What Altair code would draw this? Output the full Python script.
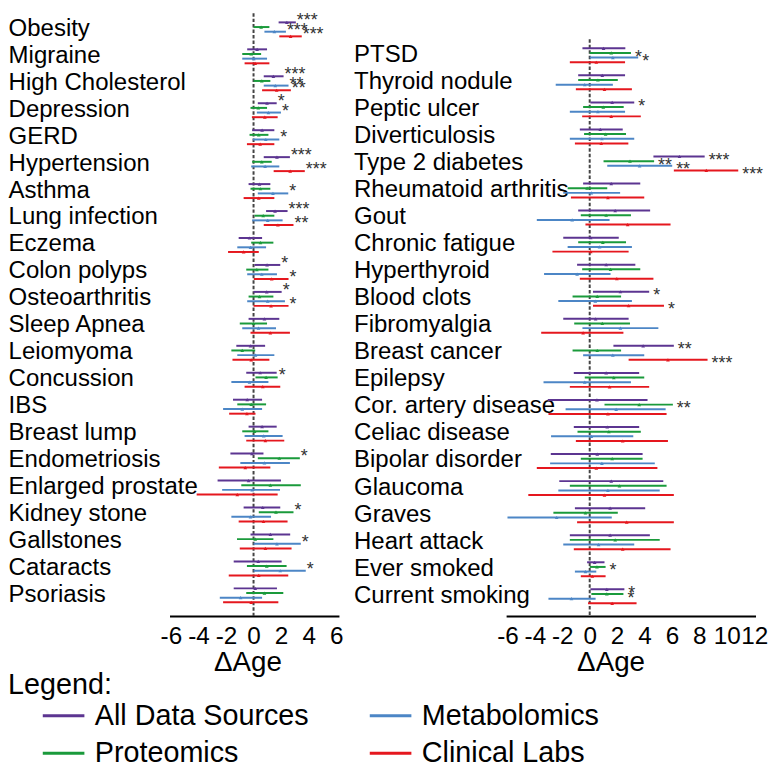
import json
import altair as alt
import pandas as pd

FONT = "Liberation Sans, Arial, sans-serif"
SERIES = ["All Data Sources", "Proteomics", "Metabolomics", "Clinical Labs"]
COLORS = {"All Data Sources": "#5C3591", "Proteomics": "#1A9A3B",
          "Metabolomics": "#4C86C6", "Clinical Labs": "#E5171E"}

# ---------------- left panel ----------------
left_conditions = ["Obesity", "Migraine", "High Cholesterol", "Depression", "GERD",
                   "Hypertension", "Asthma", "Lung infection", "Eczema", "Colon polyps",
                   "Osteoarthritis", "Sleep Apnea", "Leiomyoma", "Concussion", "IBS",
                   "Breast lump", "Endometriosis", "Enlarged prostate", "Kidney stone",
                   "Gallstones", "Cataracts", "Psoriasis"]

left_all_mid = [2.42, 0.26, 1.44, 0.98, 0.62, 1.70, 0.43, 1.56, -0.29, 0.98, 0.96,
                0.79, -0.22, 0.48, -0.46, 0.62, -0.12, -0.36, 0.67, 1.22, 0.34, 0.12]
left_all_lo = [1.82, -0.46, 0.74, 0.31, -0.10, 0.74, -0.36, 0.91, -1.08, 0.07, 0.00,
               -0.36, -1.25, -0.53, -1.49, -0.36, -1.68, -2.61, -0.72, -0.22, -1.44, -1.44]
left_all_hi = [3.07, 0.98, 2.18, 1.68, 1.51, 2.64, 1.22, 2.47, 0.62, 1.94, 2.04,
               1.87, 0.84, 1.68, 0.62, 1.68, 0.72, 1.99, 1.94, 2.66, 2.04, 1.70]

left_prot_mid = [0.55, -0.17, 0.60, 0.34, 0.38, 0.60, 0.50, 0.70, 0.50, 0.24, 0.43,
                 0.00, -0.82, 0.91, -0.17, 0.07, 1.87, 1.22, 1.63, 0.12, 0.96, 0.79]
left_prot_lo = [0.00, -0.82, 0.00, -0.22, -0.29, -0.10, -0.22, 0.07, -0.17, -0.53, -0.36,
                -1.00, -1.61, 0.14, -1.18, -0.82, 0.31, -0.89, 0.38, -1.20, -0.48, -0.53]
left_prot_hi = [1.15, 0.55, 1.22, 0.98, 1.08, 1.32, 1.22, 1.51, 1.44, 1.08, 1.44,
                0.98, 0.12, 1.75, 0.91, 1.08, 3.36, 3.43, 2.90, 1.44, 2.40, 2.16]

left_metab_mid = [1.51, 0.02, 1.58, 1.08, 0.89, 0.84, 1.41, 1.03, -0.22, 0.60, 1.03,
                  0.36, 0.14, -0.29, -0.82, 0.74, 0.79, -0.10, -0.22, 1.70, 1.94, -0.94]
left_metab_lo = [0.79, -0.82, 0.74, 0.24, -0.05, -0.17, 0.31, -0.10, -1.18, -0.46, -0.46,
                 -0.82, -1.18, -1.61, -2.21, -0.65, -0.96, -2.28, -1.61, 0.00, 0.00, -2.45]
left_metab_hi = [2.35, 0.98, 2.54, 1.99, 1.87, 1.87, 2.52, 2.11, 0.91, 1.70, 2.28,
                 1.63, 1.51, 1.08, 0.62, 2.11, 2.64, 1.92, 1.27, 3.43, 3.79, 0.62]

left_clin_mid = [2.69, 0.12, 1.68, 0.82, 0.48, 2.66, 0.38, 1.77, -0.72, 1.32, 1.27,
                 1.22, -0.17, 0.67, -0.48, 0.86, -0.60, -1.18, 0.72, 0.86, 0.38, -0.17]
left_clin_lo = [1.87, -0.65, 0.62, -0.12, -0.48, 1.46, -0.72, 0.74, -1.85, 0.02, 0.00,
                -0.22, -1.53, -0.65, -1.77, -0.53, -2.52, -4.13, -1.08, -1.00, -1.80, -2.21]
left_clin_hi = [3.50, 1.15, 2.71, 1.75, 1.51, 3.72, 1.51, 2.90, 0.38, 2.54, 2.54,
                2.64, 1.15, 1.94, 0.14, 2.23, 1.22, 1.75, 2.47, 2.76, 2.52, 1.80]

left_all_stars = {0: "***", 2: "***", 3: "*", 5: "***", 7: "***", 9: "*", 10: "*"}
left_prot_stars = {13: "*", 16: "*", 18: "*"}
left_metab_stars = {0: "***", 2: "**", 3: "*", 4: "*", 6: "*", 19: "*", 20: "*"}
left_clin_stars = {0: "***", 2: "**", 5: "***", 7: "**", 9: "*", 10: "*"}

# ---------------- right panel ----------------
right_conditions = ["PTSD", "Thyroid nodule", "Peptic ulcer", "Diverticulosis",
                    "Type 2 diabetes", "Rheumatoid arthritis", "Gout", "Chronic fatigue",
                    "Hyperthyroid", "Blood clots", "Fibromyalgia", "Breast cancer",
                    "Epilepsy", "Cor. artery disease", "Celiac disease", "Bipolar disorder",
                    "Glaucoma", "Graves", "Heart attack", "Ever smoked", "Current smoking"]

right_all_mid = [1.01, 0.92, 1.64, 0.77, 6.55, 1.57, 1.86, 0.07, 1.20, 2.24, 0.43,
                 3.90, 1.20, 0.53, 1.28, 0.55, 1.57, 1.49, 1.49, 0.36, 1.25]
right_all_lo = [-0.53, -0.84, 0.05, -0.72, 4.65, -0.48, -0.84, -1.93, -0.92, 0.24, -1.93,
                1.73, -1.16, -3.06, -1.16, -2.84, -2.22, -1.08, -1.45, -0.19, 0.05]
right_all_hi = [2.60, 2.58, 3.25, 2.41, 8.39, 3.69, 4.41, 2.12, 3.33, 4.34, 2.84,
                6.14, 3.61, 4.22, 3.61, 3.86, 5.37, 4.05, 4.39, 1.08, 2.53]

right_prot_mid = [1.57, 0.60, 0.99, 1.16, 2.94, -0.19, 1.20, 0.96, 1.52, 0.55, 0.92,
                  0.55, 1.76, 3.61, 1.40, 1.64, 2.17, -0.31, 1.86, 0.53, 1.25]
right_prot_lo = [0.00, -0.84, -0.48, -0.41, 1.01, -1.61, -0.65, -0.84, -0.55, -1.25, -1.13,
                 -1.25, -0.36, 1.08, -0.89, -0.65, -1.45, -2.65, -1.45, 0.00, 0.12]
right_prot_hi = [3.01, 2.05, 2.48, 2.65, 4.70, 1.28, 3.01, 2.65, 3.69, 2.29, 2.94,
                 2.29, 3.98, 6.07, 3.73, 3.86, 5.61, 2.05, 5.11, 1.16, 2.46]

right_metab_mid = [1.69, -0.36, 0.60, 0.89, 3.64, 0.12, -1.28, 0.72, -0.92, 0.41, 2.24,
                   1.69, -0.36, 1.93, 0.12, 0.89, 1.33, -2.41, 0.65, -0.31, -1.33]
right_metab_lo = [0.00, -2.48, -1.45, -1.45, 1.28, -1.93, -3.86, -1.61, -3.33, -2.29, -0.53,
                  -0.48, -3.37, -1.76, -2.82, -2.89, -2.29, -6.00, -1.93, -1.08, -3.01]
right_metab_hi = [3.54, 1.69, 2.58, 3.25, 6.02, 2.22, 1.45, 3.08, 1.52, 3.08, 5.01,
                  3.98, 3.01, 5.54, 3.18, 4.75, 5.11, 1.61, 3.25, 0.48, 0.43]

right_clin_mid = [0.48, 1.08, 1.57, 0.84, 8.51, 1.33, 2.77, 0.07, 1.98, 2.84, -0.48,
                  5.71, 1.45, 1.33, 2.41, 0.48, 1.08, 2.70, 2.41, 0.19, 1.64]
right_clin_lo = [-1.45, -1.01, -0.55, -1.08, 6.14, -1.37, -0.31, -2.72, -0.72, 0.24, -3.54,
                 2.84, -1.45, -3.01, -1.01, -3.86, -4.48, -0.92, -1.16, -0.65, -0.12]
right_clin_hi = [2.58, 3.08, 3.73, 2.82, 10.84, 3.98, 5.90, 2.84, 4.65, 5.42, 2.46,
                 8.60, 4.34, 5.61, 5.71, 4.94, 6.14, 6.14, 5.90, 1.16, 3.42]

right_all_stars = {2: "*", 4: "***", 9: "*", 11: "**", 20: "*"}
right_prot_stars = {0: "*", 4: "**", 13: "**", 19: "*", 20: "*"}
right_metab_stars = {0: "*", 4: "**"}
right_clin_stars = {4: "***", 9: "*", 11: "***"}

left_ticks = [-6, -4, -2, 0, 2, 4, 6]
right_ticks = [-6, -4, -2, 0, 2, 4, 6, 8, 10, 12]


def build(conds, series_data, offset_units):
    recs = []
    for k, s in enumerate(SERIES):
        mid, lo, hi, stars = series_data[s]
        for i, name in enumerate(conds):
            recs.append(dict(cond=name, row=i, series=s, mid=mid[i], lo=lo[i], hi=hi[i],
                             stars=stars.get(i, ""), y=i + (k - 1.5) * offset_units))
    return pd.DataFrame(recs)


left_df = build(left_conditions, {
    "All Data Sources": (left_all_mid, left_all_lo, left_all_hi, left_all_stars),
    "Proteomics": (left_prot_mid, left_prot_lo, left_prot_hi, left_prot_stars),
    "Metabolomics": (left_metab_mid, left_metab_lo, left_metab_hi, left_metab_stars),
    "Clinical Labs": (left_clin_mid, left_clin_lo, left_clin_hi, left_clin_stars),
}, 4.7 / 27.2)

right_df = build(right_conditions, {
    "All Data Sources": (right_all_mid, right_all_lo, right_all_hi, right_all_stars),
    "Proteomics": (right_prot_mid, right_prot_lo, right_prot_hi, right_prot_stars),
    "Metabolomics": (right_metab_mid, right_metab_lo, right_metab_hi, right_metab_stars),
    "Clinical Labs": (right_clin_mid, right_clin_lo, right_clin_hi, right_clin_stars),
}, 4.7 / 27.3)

legend = alt.Legend(
    title="Legend:", orient="none", legendX=-162.9, legendY=664.5, columns=2,
    symbolType="stroke", symbolSize=1764, symbolStrokeWidth=3,
    symbolOffset=33.5, labelOffset=9, columnPadding=26, rowPadding=-11,
    labelFontSize=29, labelFont=FONT, labelColor="black", labelLimit=0,
    titleFontSize=29, titleFont=FONT, titleFontWeight="normal", titleColor="black",
    titlePadding=-6.5)

color = alt.Color("series:N", scale=alt.Scale(domain=SERIES,
                                               range=[COLORS[s] for s in SERIES]),
                  legend=legend)

PLOT_H = 609.0


def panel(df, names, xdomain, xticks, width, ydomain, rule_top, label_pad,
          star_dx, star_dy, title_x):
    yscale = alt.Scale(domain=ydomain, reverse=True, nice=False, zero=False)
    yaxis = alt.Axis(values=list(range(len(names))),
                     labelExpr=json.dumps(names) + "[datum.value]",
                     domain=False, ticks=False, tickSize=0, grid=False, title=None,
                     labelAlign="left", labelBaseline="middle", labelPadding=label_pad,
                     labelOffset=-1,
                     labelFontSize=24.2, labelFont=FONT, labelColor="black",
                     labelLimit=0, labelOverlap=False)
    xscale = alt.Scale(domain=xdomain, nice=False, zero=False)
    xaxis = alt.Axis(values=xticks,
                     labelExpr="(datum.value < 0 ? '-' : '') + abs(datum.value)",
                     ticks=False, tickSize=0, grid=False, domainColor="black", domainWidth=2,
                     labelFontSize=24.5, labelFont=FONT, labelColor="black", labelPadding=8.5,
                     labelOverlap=False, labelFlush=False,
                     title="ΔAge", titleFontSize=28, titleFont=FONT, titleX=title_x,
                     titleFontWeight="normal", titleColor="black", titlePadding=1.5)
    zero_df = pd.DataFrame({"x": [0.0], "y": [rule_top], "y2": [ydomain[1]]})
    zero = alt.Chart(zero_df).mark_rule(strokeDash=[3.5, 2], strokeWidth=2, color="#444").encode(
        x=alt.X("x:Q", scale=xscale, axis=xaxis),
        y=alt.Y("y:Q", scale=yscale, axis=yaxis),
        y2="y2:Q")
    base = alt.Chart(df)
    lines = base.mark_rule(strokeWidth=2).encode(
        x=alt.X("lo:Q", scale=xscale, axis=xaxis), x2="hi:Q",
        y=alt.Y("y:Q", scale=yscale, axis=yaxis), color=color)
    pts = base.mark_point(shape="triangle-up", filled=True, size=14, opacity=1).encode(
        x=alt.X("mid:Q", scale=xscale, axis=xaxis),
        y=alt.Y("y:Q", scale=yscale, axis=yaxis), color=color)
    stars = base.transform_filter("datum.stars != ''").mark_text(
        align="left", baseline="top", dx=star_dx, dy=star_dy,
        fontSize=18, font=FONT, color="#333333").encode(
        x=alt.X("hi:Q", scale=xscale, axis=xaxis),
        y=alt.Y("y:Q", scale=yscale, axis=yaxis), text="stars:N")
    return alt.layer(zero, lines, pts, stars).properties(width=width, height=PLOT_H)


left = panel(left_df, left_conditions, [-6.1, 6.2], left_ticks, 171.0,
             [-0.6268, 21.763], -0.6, 162.9, 1, -10, 78.6)
right = panel(right_df, right_conditions, [-6.1, 12.1], right_ticks, 251.7,
              [-1.5824, 20.725], -0.59, 154, 4, -4.35, 105.4)

chart = alt.hconcat(left, right, spacing=168.7, bounds="flush").resolve_scale(
    color="shared").properties(padding=0).configure(font=FONT).configure_view(
    stroke="transparent", strokeWidth=0)

chart.save("out.html", embed_options={"renderer": "svg", "actions": False})
